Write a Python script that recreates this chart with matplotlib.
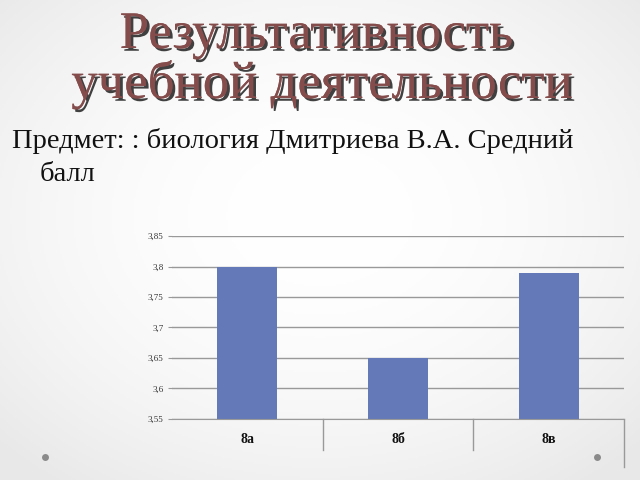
import numpy as np
import matplotlib
matplotlib.use("Agg")
import matplotlib.pyplot as plt
import matplotlib.patheffects as pe

categories = ["8а", "8б", "8в"]
values = [3.80, 3.65, 3.79]
yticks = [3.55, 3.6, 3.65, 3.7, 3.75, 3.8, 3.85]
ytick_labels = ["3,55", "3,6", "3,65", "3,7", "3,75", "3,8", "3,85"]

title_lines = ["Результативность", "учебной деятельности"]
subtitle_line1 = "Предмет: : биология Дмитриева В.А. Средний"
subtitle_line2 = "балл"

fig = plt.figure(figsize=(6.4, 4.8), dpi=100)

# background gradient
bg = fig.add_axes([0, 0, 1, 1], zorder=-10)
yy, xx = np.mgrid[0:1:240j, 0:1:320j]
r = np.sqrt(((xx - 0.5) / 0.7) ** 2 + ((yy - 0.45) / 0.7) ** 2)
shade = 1.0 - 0.09 * np.clip(r, 0, 1) ** 2
bg.imshow(np.dstack([shade, shade, shade]), extent=[0, 1, 0, 1], aspect="auto")
bg.set_xlim(0, 1)
bg.set_ylim(0, 1)
bg.axis("off")
bg.plot([45 / 640, 597 / 640], [1 - 457 / 480, 1 - 457 / 480], "o",
        color="#8a8a8a", ms=5, mec="none")

# title
tcol = "#854c4c"
effects = [pe.withSimplePatchShadow(offset=(2, -2), shadow_rgbFace="#202020", alpha=0.85),
           pe.Normal()]
fig.text(0.494, 1 - 48 / 480, title_lines[0], ha="center", va="baseline",
         fontsize=38, family="Liberation Serif", color=tcol, path_effects=effects)
fig.text(0.503, 1 - 98 / 480, title_lines[1], ha="center", va="baseline",
         fontsize=38, family="Liberation Serif", color=tcol, path_effects=effects)

# subtitle
fig.text(12 / 640, 1 - 148 / 480, subtitle_line1, ha="left", va="baseline",
         fontsize=20.5, family="Liberation Serif", color="#111111")
fig.text(40 / 640, 1 - 181 / 480, subtitle_line2, ha="left", va="baseline",
         fontsize=20.5, family="Liberation Serif", color="#111111")

# chart
ax = fig.add_axes([172 / 640, 1 - 419 / 480, (624 - 172) / 640, (419 - 236) / 480])
ax.patch.set_alpha(0)
x = np.arange(len(categories))
ax.bar(x, [v - 3.55 for v in values], bottom=3.55, width=0.4, color="#6479b7",
       zorder=3)
ax.set_xlim(-0.5, len(categories) - 0.5)
ax.set_ylim(3.55, 3.85)
ax.set_yticks(yticks)
ax.set_yticklabels(ytick_labels, family="Liberation Serif", fontsize=6.5, color="#333333")
ax.tick_params(axis="y", length=3, color="#999999", pad=3)
ax.grid(axis="y", color="#999999", linewidth=1.0, zorder=0)
for s in ["top", "right", "left"]:
    ax.spines[s].set_visible(False)
ax.spines["bottom"].set_color("#999999")
ax.spines["bottom"].set_zorder(4)
ax.set_xticks(x)
ax.set_xticklabels(categories, family="Liberation Serif", fontsize=10,
                   fontweight="bold", color="#111111")
ax.tick_params(axis="x", length=0, pad=10)
for b in np.arange(0.5, len(categories), 1.0):
    ax.plot([b, b], [0, -0.17 if b < len(categories) - 1 else -0.26],
            transform=ax.get_xaxis_transform(), color="#999999", lw=1.0,
            clip_on=False)

fig.savefig("out.png", dpi=100)
